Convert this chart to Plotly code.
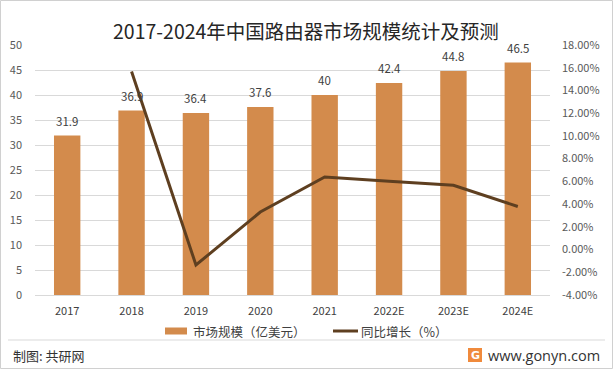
import plotly.graph_objects as go

years = ["2017", "2018", "2019", "2020", "2021", "2022E", "2023E", "2024E"]
market_size = [31.9, 36.9, 36.4, 37.6, 40, 42.4, 44.8, 46.5]
growth_pct = [None, 15.67, -1.36, 3.30, 6.38, 6.00, 5.66, 3.79]
left_ticks = [0, 5, 10, 15, 20, 25, 30, 35, 40, 45, 50]
right_ticks = [-4, -2, 0, 2, 4, 6, 8, 10, 12, 14, 16, 18]

FONT = "Noto Sans CJK SC"
BAR_C = "#D38B4C"
LINE_C = "#5E3F20"
W, H = 613, 369
L, R, T, B = 35, 63, 45, 74
PW, PH = W - L - R, H - T - B


def px(x):
    return (x - L) / PW


def py(y):
    return (H - B - y) / PH


fig = go.Figure()
fig.add_trace(go.Bar(
    x=years, y=market_size, name="市场规模（亿美元）",
    marker=dict(color=BAR_C, line=dict(width=0)),
    width=0.41, showlegend=False,
))
fig.add_trace(go.Scatter(
    x=years, y=growth_pct, name="同比增长（%）", yaxis="y2",
    mode="lines", line=dict(color=LINE_C, width=3),
    connectgaps=False, showlegend=False,
))

# data labels above bars (x given as category index)
for i, v in enumerate(market_size):
    fig.add_annotation(x=i, y=v, xref="x", yref="y", text=str(v), showarrow=False,
                       yanchor="bottom", yshift=5,
                       font=dict(size=11.5, color="#404040", family=FONT))

fig.update_layout(
    width=W, height=H,
    margin=dict(l=L, r=R, t=T, b=B, autoexpand=False),
    paper_bgcolor="white", plot_bgcolor="white",
    font=dict(family=FONT, size=11, color="#595959"),
    showlegend=False,
    xaxis=dict(type="category", categoryorder="array", categoryarray=years,
               range=[-0.5, len(years) - 0.5],
               showgrid=False, showline=True, linecolor="#d9d9d9", linewidth=1,
               ticks="", tickfont=dict(size=11, color="#404040"), ticklabelstandoff=6),
    yaxis=dict(range=[0, 50], tickvals=left_ticks, showgrid=True, gridcolor="#d9d9d9",
               gridwidth=1, zeroline=False, showline=False, ticks="",
               tickfont=dict(size=11, color="#595959"), ticklabelstandoff=12),
    yaxis2=dict(range=[-4, 18], tickvals=right_ticks,
                ticktext=[f"{v:.2f}%" for v in right_ticks],
                overlaying="y", side="right", showgrid=False, zeroline=False,
                showline=False, ticks="", tickfont=dict(size=11, color="#595959"),
                ticklabelstandoff=11),
)

# custom legend
LEG_Y = 331
fig.add_shape(type="rect", xref="paper", yref="paper",
              x0=px(165), x1=px(187), y0=py(LEG_Y + 3.5), y1=py(LEG_Y - 3.5),
              fillcolor=BAR_C, line=dict(width=0))
fig.add_annotation(text="市场规模（亿美元）", xref="paper", yref="paper",
                   x=px(191), y=py(LEG_Y), xanchor="left", yanchor="middle", showarrow=False,
                   font=dict(size=12.5, color="#404040", family=FONT))
fig.add_shape(type="line", xref="paper", yref="paper",
              x0=px(333), x1=px(358), y0=py(LEG_Y), y1=py(LEG_Y),
              line=dict(color=LINE_C, width=3))
fig.add_annotation(text="同比增长（%）", xref="paper", yref="paper",
                   x=px(359), y=py(LEG_Y), xanchor="left", yanchor="middle", showarrow=False,
                   font=dict(size=12.5, color="#404040", family=FONT))

# title
fig.add_annotation(text="2017-2024年中国路由器市场规模统计及预测", xref="paper", yref="paper",
                   x=px(306), y=py(31), xanchor="center", yanchor="middle", showarrow=False,
                   font=dict(size=19.5, color="#262626", family=FONT))
# footer
fig.add_annotation(text="制图: 共研网", xref="paper", yref="paper",
                   x=px(11), y=py(355), xanchor="left", yanchor="middle", showarrow=False,
                   font=dict(size=13, color="#333333", family=FONT))
fig.add_annotation(text="www.gonyn.com", xref="paper", yref="paper",
                   x=px(602), y=py(355), xanchor="right", yanchor="middle", showarrow=False,
                   font=dict(size=14.5, color="#333333", family="Open Sans"))
# logo
fig.add_shape(type="rect", xref="paper", yref="paper",
              x0=px(468), x1=px(482), y0=py(362), y1=py(348),
              fillcolor="#F08A3C", line=dict(width=0))
fig.add_annotation(text="<b>G</b>", xref="paper", yref="paper",
                   x=px(475), y=py(355), xanchor="center", yanchor="middle", showarrow=False,
                   font=dict(size=11, color="white", family="DejaVu Sans"))
# separator line
fig.add_shape(type="line", xref="paper", yref="paper",
              x0=px(8), x1=px(605), y0=py(340), y1=py(340),
              line=dict(color="#d9d9d9", width=1))
# outer border
fig.add_shape(type="rect", xref="paper", yref="paper",
              x0=px(0.5), x1=px(W - 0.5), y0=py(H - 0.5), y1=py(0.5),
              line=dict(color="#d0d0d0", width=1))

fig.write_html("out.html", config={"displayModeBar": False},
               post_script="document.body.style.margin='0';document.body.style.overflow='hidden';")
